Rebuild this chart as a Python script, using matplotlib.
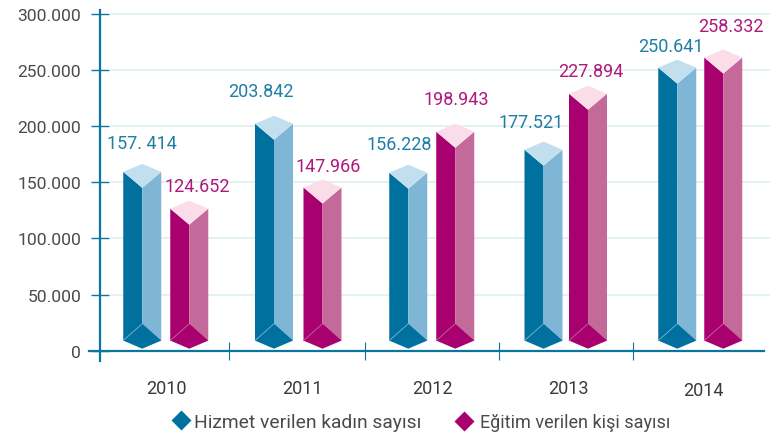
import matplotlib
matplotlib.use("Agg")
import matplotlib.pyplot as plt
from matplotlib.lines import Line2D
from matplotlib.patches import Polygon
import numpy as np

plt.rcParams["font.family"] = ["Roboto", "DejaVu Sans"]

years = ["2010", "2011", "2012", "2013", "2014"]
women_served = [157414, 203842, 156228, 177521, 250641]
people_trained = [124652, 147966, 198943, 227894, 258332]
women_labels = ["157. 414", "203.842", "156.228", "177.521", "250.641"]
trained_labels = ["124.652", "147.966", "198.943", "227.894", "258.332"]
y_ticks = [0, 50000, 100000, 150000, 200000, 250000, 300000]
y_tick_labels = ["0", "50.000", "100.000", "150.000", "200.000", "250.000", "300.000"]

BLUE = ("#00709f", "#7fb6d5", "#c2dfef")
PINK = ("#a9006f", "#c46a9b", "#fbdde9")
AXIS = "#0a76a0"
TEXT = "#4a4a4a"

W, H = 783, 439
UNIT = 133.75          # pixels per category
PX_Y = 337 / 300000    # pixels per value
CENTER = 165.5         # pixel x of the first group


def px_x(px):
    return (px - CENTER) / UNIT


def px_y(py):
    return (351.7 - py) / PX_Y


def draw_bar(ax, x, value, colors, lift):
    """One fake 3D bar: two side faces, a top diamond and a bottom diamond."""
    front, side, top = colors
    hw = 19 / UNIT
    top_y = value + lift / PX_Y
    drop = 16 / PX_Y
    rise = 8 / PX_Y
    base = 9000
    inner = 24000
    ax.add_patch(Polygon([(x - hw, base), (x - hw, top_y), (x, top_y - drop), (x, base)],
                         fc=front, ec="none", zorder=3))
    ax.add_patch(Polygon([(x, base), (x, top_y - drop), (x + hw, top_y), (x + hw, base)],
                         fc=side, ec="none", zorder=3))
    ax.add_patch(Polygon([(x - hw, top_y), (x, top_y + rise), (x + hw, top_y), (x, top_y - drop)],
                         fc=top, ec="none", zorder=4))
    ax.add_patch(Polygon([(x - hw, base), (x, inner), (x + hw, base), (x, 1800)],
                         fc=front, ec="none", zorder=4))
    # thin light seam on the bottom diamond
    ax.plot([x - hw, x], [base, inner], color=side, lw=0.6, zorder=5)


fig = plt.figure(figsize=(W / 100, H / 100), dpi=100)
x0, x1 = 89, 770
y_top, y_bottom = 11, 362
ax = fig.add_axes([x0 / W, 1 - y_bottom / H, (x1 - x0) / W, (y_bottom - y_top) / H])
ax.set_xlim(px_x(x0), px_x(x1))
ax.set_ylim(px_y(y_bottom), px_y(y_top))

xs = np.arange(len(years))
offset = 23.25 / UNIT

ax.hlines(y_ticks[1:], px_x(110), px_x(x1), color="#e2f1ee", lw=1.3, zorder=1)

# the original bars are hand drawn, so each one is nudged a little in pixels
women_dx = [0, -2, -1.5, 0, 0]
trained_dx = [0.5, 0, -1, -2, -0.5]
women_lift = [2, -2, 2.5, 1.6, 1.5]
trained_lift = [2, -3, -4.5, 1, 3]
for i in xs:
    draw_bar(ax, i - offset + women_dx[i] / UNIT, women_served[i], BLUE, women_lift[i])
    draw_bar(ax, i + offset + trained_dx[i] / UNIT, people_trained[i], PINK, trained_lift[i])

women_pos = [(141.5, 144), (260.5, 92), (399, 145), (531, 123), (670.5, 47)]
trained_pos = [(197.5, 187), (328.5, 167), (456.5, 100), (591, 72), (731, 27)]
for i in xs:
    ax.text(px_x(women_pos[i][0]), px_y(women_pos[i][1]), women_labels[i], ha="center", va="center",
            color="#1f7ea6", fontsize=13, zorder=6)
    ax.text(px_x(trained_pos[i][0]), px_y(trained_pos[i][1]), trained_labels[i], ha="center", va="center",
            color="#b0187c", fontsize=13, zorder=6)

for name in ["top", "right"]:
    ax.spines[name].set_visible(False)
ax.spines["left"].set_position(("data", px_x(100)))
ax.spines["bottom"].set_position(("data", 0))
ax.spines["bottom"].set_bounds(px_x(x0), px_x(764))
ax.spines["left"].set_color(AXIS)
ax.spines["bottom"].set_color(AXIS)
ax.spines["left"].set_linewidth(1.6)
ax.spines["bottom"].set_linewidth(1.6)
ax.patch.set_visible(False)

ax.set_yticks(y_ticks, y_tick_labels)
ax.tick_params(axis="y", direction="inout", length=13, width=1, color=AXIS,
               labelcolor=TEXT, labelsize=12.6, pad=7)
ax.set_xticks([px_x(p) for p in [229, 365, 499, 633]], [""] * 4)
ax.tick_params(axis="x", direction="inout", length=13, width=0.8, color=AXIS)

year_pos = [(166, 389), (302, 389), (432, 389), (568, 389), (703, 391)]
for i in xs:
    ax.text(px_x(year_pos[i][0]), px_y(year_pos[i][1]), years[i], ha="center", va="center",
            color="#3a3a3a", fontsize=13, clip_on=False)

# two separate legends, the original's two entries are not set at quite the same width
women_handle = Line2D([], [], ls="", marker="D", ms=10.5, mfc=BLUE[0], mec="none",
                      label="Hizmet verilen kadın sayısı")
trained_handle = Line2D([], [], ls="", marker="D", ms=10.5, mfc=PINK[0], mec="none",
                        label="Eğitim verilen kişi sayısı")
first = fig.legend(handles=[women_handle], loc="center", bbox_to_anchor=(291.5 / W, 1 - 423 / H), frameon=False,
                   fontsize=13.9, labelcolor=TEXT, handletextpad=-0.37)
second = fig.legend(handles=[trained_handle], loc="center", bbox_to_anchor=(558 / W, 1 - 423 / H), frameon=False,
                    fontsize=13, labelcolor=TEXT, handletextpad=-0.1)

fig.savefig("out.png", dpi=100)
